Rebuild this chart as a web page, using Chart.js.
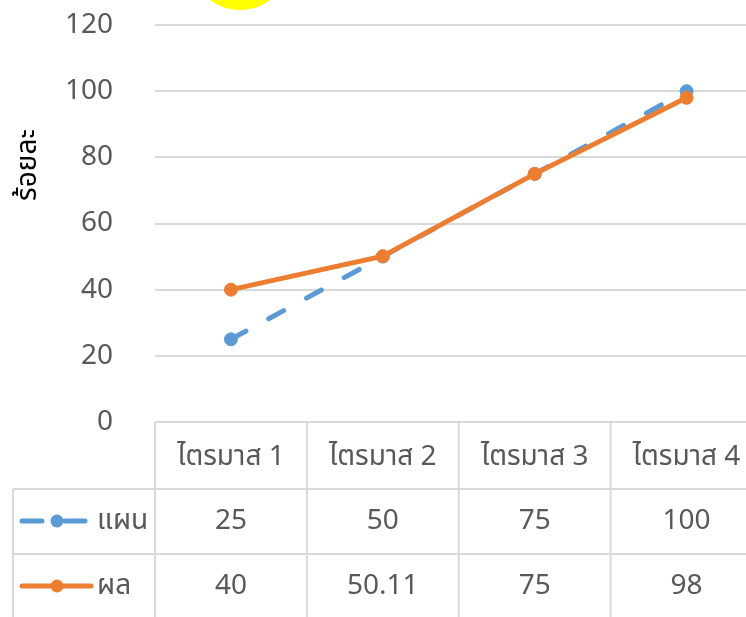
<!DOCTYPE html>
<html>
<head>
<meta charset="utf-8">
<script src="https://cdn.jsdelivr.net/npm/chart.js@4.4.1/dist/chart.umd.min.js"></script>
<style>
  html, body { margin: 0; padding: 0; background: #fff; overflow: hidden; }
  #wrap { position: relative; width: 746px; height: 617px; overflow: hidden; }
  #c { position: absolute; left: 0; top: 0; }
  #sun { position: absolute; left: 190px; top: -90px; width: 100px; height: 100px; border-radius: 50%; background: #ffff00; }
</style>
</head>
<body>
<div id="wrap">
  <canvas id="c" width="770" height="617"></canvas>
  <div id="sun"></div>
</div>
<script>
const categories = ['ไตรมาส 1', 'ไตรมาส 2', 'ไตรมาส 3', 'ไตรมาส 4'];
const planLabel = 'แผน';
const actualLabel = 'ผล';
const planValues = [25, 50, 75, 100];
const actualValues = [40, 50.11, 75, 98];
const yTitle = 'ร้อยละ';
const yMin = 0, yMax = 120, yStep = 20;

const FONT = '"Noto Sans", "Noto Sans Thai", sans-serif';
const TXT = '#595959';
const GRID = '#d9d9d9';
const BLUE = '#5b9bd5';
const ORANGE = '#ed7d31';
const DASH = [17, 26];

const tablePlugin = {
  id: 'dataTable',
  afterDraw(chart) {
    const ctx = chart.ctx;
    const x = chart.scales.x;
    const a = chart.chartArea;
    const n = categories.length;
    const bounds = [a.left];
    for (let i = 0; i < n - 1; i++) bounds.push((x.getPixelForTick(i) + x.getPixelForTick(i + 1)) / 2);
    bounds.push(a.right);
    const top = a.bottom;
    const r1 = top + 67, r2 = r1 + 65, bottom = chart.height + 5;
    const legendLeft = 13;
    ctx.save();
    ctx.strokeStyle = GRID;
    ctx.lineWidth = 2;
    ctx.beginPath();
    ctx.moveTo(a.left, top); ctx.lineTo(a.right, top);
    ctx.moveTo(legendLeft, r1); ctx.lineTo(a.right, r1);
    ctx.moveTo(legendLeft, r2); ctx.lineTo(a.right, r2);
    ctx.moveTo(legendLeft, r1); ctx.lineTo(legendLeft, bottom);
    bounds.forEach(b => { ctx.moveTo(b, top); ctx.lineTo(b, bottom); });
    ctx.stroke();

    ctx.fillStyle = TXT;
    ctx.font = '28px ' + FONT;
    ctx.textAlign = 'center';
    ctx.textBaseline = 'middle';
    const hy = top + 35, ky1 = r1 + 32, ky2 = r2 + 32;
    categories.forEach((c, i) => ctx.fillText(c, x.getPixelForTick(i), hy));
    planValues.forEach((v, i) => ctx.fillText(String(v), x.getPixelForTick(i), ky1));
    actualValues.forEach((v, i) => ctx.fillText(String(v), x.getPixelForTick(i), ky2));

    // legend keys
    ctx.lineWidth = 5;
    ctx.lineCap = 'round';
    ctx.strokeStyle = BLUE;
    ctx.setLineDash([20, 23]);
    ctx.beginPath(); ctx.moveTo(22, ky1); ctx.lineTo(86, ky1); ctx.stroke();
    ctx.setLineDash([]);
    ctx.fillStyle = BLUE;
    ctx.beginPath(); ctx.arc(57, ky1, 6.5, 0, Math.PI * 2); ctx.fill();
    ctx.strokeStyle = ORANGE;
    ctx.beginPath(); ctx.moveTo(22, ky2); ctx.lineTo(91, ky2); ctx.stroke();
    ctx.fillStyle = ORANGE;
    ctx.beginPath(); ctx.arc(57, ky2, 6.5, 0, Math.PI * 2); ctx.fill();

    ctx.fillStyle = TXT;
    ctx.textAlign = 'left';
    ctx.fillText(planLabel, 97, ky1);
    ctx.fillText(actualLabel, 97, ky2);

    // y axis title
    ctx.fillStyle = '#000';
    ctx.font = '28px ' + FONT;
    ctx.translate(28, 165);
    ctx.rotate(-Math.PI / 2);
    ctx.textAlign = 'center';
    ctx.fillText(yTitle, 0, 0);
    ctx.restore();
  }
};

new Chart(document.getElementById('c'), {
  type: 'line',
  data: {
    labels: categories,
    datasets: [
      {
        label: planLabel, data: planValues, order: 2,
        borderColor: BLUE, backgroundColor: BLUE, borderWidth: 5,
        borderDash: DASH, borderCapStyle: 'round',
        pointRadius: 6.5, pointBorderWidth: 1, pointBackgroundColor: BLUE, pointBorderColor: BLUE,
        tension: 0
      },
      {
        label: actualLabel, data: actualValues, order: 1,
        borderColor: ORANGE, backgroundColor: ORANGE, borderWidth: 5,
        borderCapStyle: 'round',
        pointRadius: 6.5, pointBorderWidth: 1, pointBackgroundColor: ORANGE, pointBorderColor: ORANGE,
        tension: 0
      }
    ]
  },
  options: {
    responsive: false,
    animation: false,
    layout: { padding: { top: 25, bottom: 195, left: 0, right: 7 } },
    plugins: { legend: { display: false }, tooltip: { enabled: false } },
    scales: {
      x: { display: false, offset: true },
      y: {
        min: yMin, max: yMax,
        afterFit(s) { s.width = 155; s.paddingTop = 0; s.paddingBottom = 0; },
        border: { display: false },
        grid: { color: GRID, lineWidth: 2, drawTicks: false },
        ticks: { stepSize: yStep, padding: 42, color: TXT, font: { size: 28, family: FONT } }
      }
    }
  },
  plugins: [tablePlugin]
});
</script>
</body>
</html>
